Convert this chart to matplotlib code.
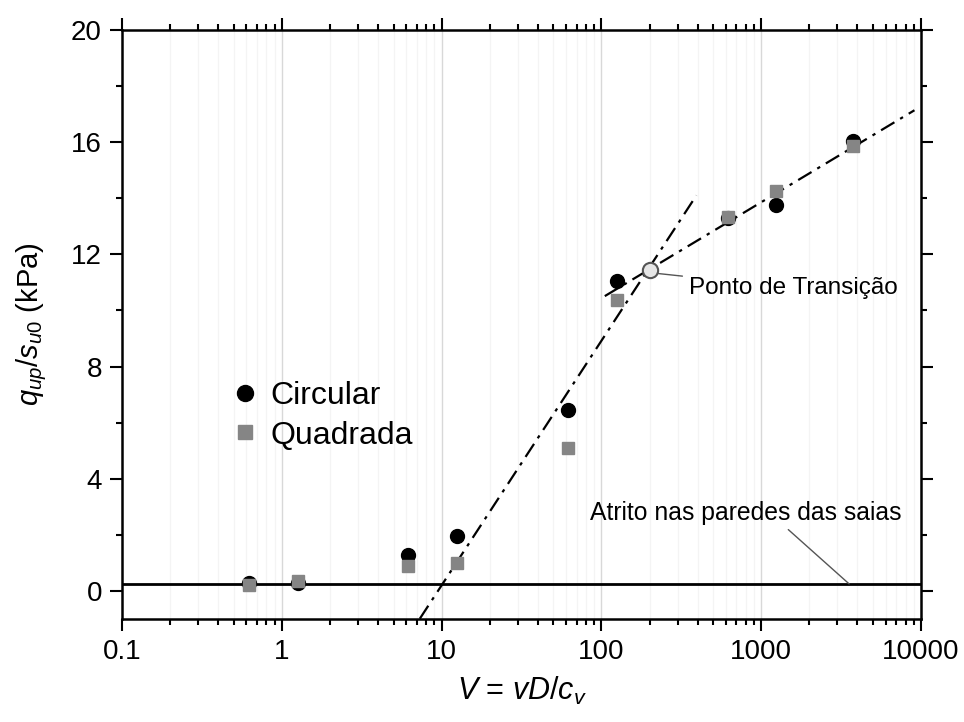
import matplotlib
matplotlib.use("Agg")
import matplotlib.pyplot as plt
import numpy as np
from matplotlib.ticker import LogLocator, MultipleLocator, FixedLocator

plt.rcParams["font.family"] = ["Liberation Sans", "DejaVu Sans"]
plt.rcParams["mathtext.fontset"] = "custom"
plt.rcParams["mathtext.rm"] = "Liberation Sans"
plt.rcParams["mathtext.it"] = "Liberation Sans:italic"

# data
v_circ = [0.62, 1.26, 6.2, 12.4, 62, 126, 620, 1240, 3750]
q_circ = [0.28, 0.28, 1.28, 1.95, 6.45, 11.05, 13.3, 13.75, 16.05]
v_quad = [0.62, 1.26, 6.2, 12.4, 62, 126, 620, 1240, 3750]
q_quad = [0.22, 0.36, 0.88, 1.0, 5.1, 10.38, 13.35, 14.25, 15.88]
v_trans, q_trans = 200, 11.45
friction = 0.25

# fitted trend lines: q = a + b*log10(V)
steep_a, steep_b = -8.52, 8.72
steep_range = [7.3, 393]
flat_a, flat_b = 3.6, 3.42
flat_range = [105, 9100]

fig = plt.figure(figsize=(9.64, 7.22), dpi=100)
ax = fig.add_axes([0.1266, 0.1427, 0.8288, 0.8157])
ax.set_xscale("log")
ax.set_xlim(0.1, 10000)
ax.set_ylim(-1, 20)

# vertical grid
for d in [1, 10, 100, 1000]:
    ax.axvline(d, color="#d8d8d8", lw=1.0, zorder=0)
for d in [0.1, 1, 10, 100, 1000]:
    for k in range(2, 10):
        ax.axvline(d * k, color="#f4f4f4", lw=0.9, zorder=0)

ax.axhline(friction, color="black", lw=2.0, zorder=2)

dashdot = (0, (7, 3, 1.5, 3))
xs = np.logspace(np.log10(steep_range[0]), np.log10(steep_range[1]), 50)
ax.plot(xs, steep_a + steep_b * np.log10(xs), color="black", ls=dashdot, lw=1.6, zorder=3)
xs = np.logspace(np.log10(flat_range[0]), np.log10(flat_range[1]), 50)
ax.plot(xs, flat_a + flat_b * np.log10(xs), color="black", ls=dashdot, lw=1.6, zorder=3)

ax.plot(v_circ, q_circ, "o", color="black", ms=10, ls="none", label="Circular", zorder=4)
ax.plot(v_quad, q_quad, "s", color="#858585", ms=9, ls="none", label="Quadrada", zorder=5)
ax.plot([v_trans], [q_trans], "o", mfc="#e6e6e6", mec="#555555", mew=1.5, ms=11, zorder=6)

ax.annotate("Ponto de Transição", xy=(v_trans * 1.08, q_trans - 0.12), xytext=(355, 10.8),
            fontsize=17.5, va="center", ha="left",
            arrowprops=dict(arrowstyle="-", color="#555555", lw=1.0, shrinkA=3, shrinkB=0))
ax.annotate("Atrito nas paredes das saias", xy=(3550, friction), xytext=(800, 2.78),
            fontsize=17.8, va="center", ha="center",
            arrowprops=dict(arrowstyle="-", color="#555555", lw=1.0, shrinkA=2, shrinkB=0,
                            relpos=(0.62, 0)))

ax.legend(loc="center left", bbox_to_anchor=(0.098, 0.345), frameon=False, fontsize=23,
          handletextpad=0.3, labelspacing=0.3, handlelength=1.0, markerscale=1.15)

ax.xaxis.set_major_locator(FixedLocator([0.1, 1, 10, 100, 1000, 10000]))
ax.set_xticklabels(["0.1", "1", "10", "100", "1000", "10000"])
ax.xaxis.set_minor_locator(LogLocator(base=10, subs=np.arange(2, 10), numticks=20))
ax.yaxis.set_major_locator(FixedLocator([0, 4, 8, 12, 16, 20]))
ax.yaxis.set_minor_locator(MultipleLocator(2))
ax.tick_params(which="both", direction="out", top=True, right=True, width=1.5, labelsize=20)
ax.tick_params(which="major", length=8.5, pad=6)
ax.tick_params(which="minor", length=4)
for s in ax.spines.values():
    s.set_linewidth(1.8)

ax.set_xlabel(r"$V$ = $vD/c_v$", fontsize=22, labelpad=7)
ax.set_ylabel(r"$q_{up}/s_{u0}$ (kPa)", fontsize=21, labelpad=16)

fig.savefig("out.png", dpi=100)
